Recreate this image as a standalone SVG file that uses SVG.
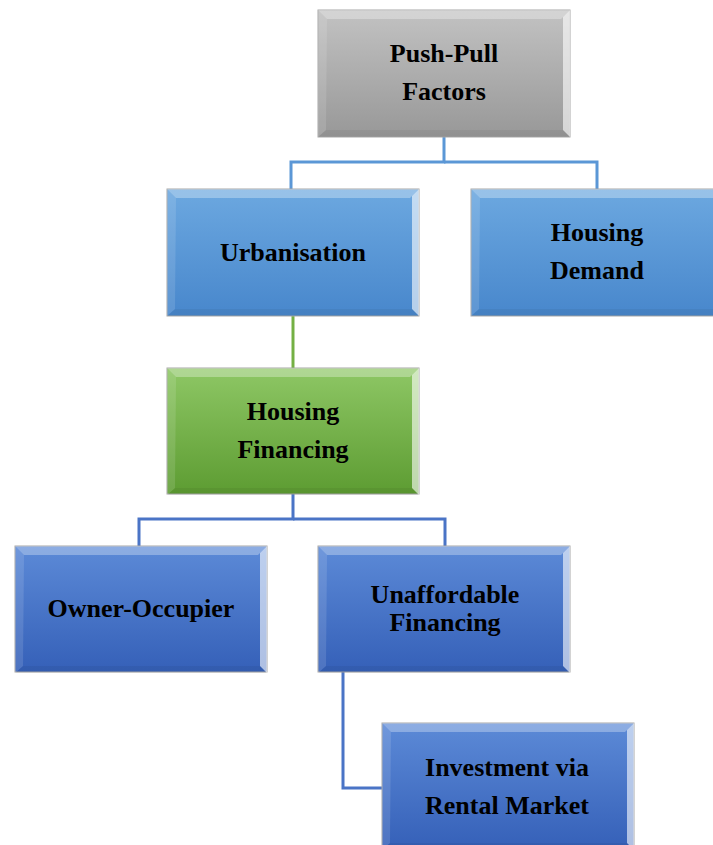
<svg xmlns="http://www.w3.org/2000/svg" xmlns:xlink="http://www.w3.org/1999/xlink" width="713" height="845" viewBox="0 0 713 845">
<style>
.lbl{font-family:"Liberation Serif","Times New Roman",serif;font-weight:bold;font-size:26px;fill:#000;text-anchor:middle}
.box{stroke:#a8a8a8;stroke-width:1}
.c1{fill:none;stroke:#5b97d6;stroke-width:3}
.c2{fill:none;stroke:#74b044;stroke-width:3}
.c3{fill:none;stroke:#4a74c6;stroke-width:3}
</style>
<defs>
<linearGradient id="gGray" x1="0" y1="0" x2="0" y2="1"><stop offset="0" stop-color="#c2c2c2"/><stop offset="1" stop-color="#989898"/></linearGradient>
<linearGradient id="gBlue" x1="0" y1="0" x2="0" y2="1"><stop offset="0" stop-color="#6ca8e0"/><stop offset="1" stop-color="#4887cc"/></linearGradient>
<linearGradient id="gGreen" x1="0" y1="0" x2="0" y2="1"><stop offset="0" stop-color="#8ec765"/><stop offset="1" stop-color="#5d9c32"/></linearGradient>
<linearGradient id="gDark" x1="0" y1="0" x2="0" y2="1"><stop offset="0" stop-color="#5c8ad7"/><stop offset="1" stop-color="#3560b8"/></linearGradient>
<g id="bevel">
<polygon points="0,0 252,0 243,9 9,9" fill="#fff" fill-opacity="0.3"/>
<polygon points="252,0 252,127 245,120 245,7" fill="#fff" fill-opacity="0.6"/>
<polygon points="0,127 252,127 245,120 8,120" fill="#000" fill-opacity="0.05"/>
<polygon points="0,0 0,127 8,120 9,9" fill="#fff" fill-opacity="0.12"/>
</g>
</defs>
<g id="connectors">
<polyline class="c1" points="444,137 444,162 291,162 291,189"/>
<polyline class="c1" points="444,162 597,162 597,189"/>
<line class="c2" x1="293" y1="316" x2="293" y2="368"/>
<polyline class="c3" points="293,494 293,519 139,519 139,546"/>
<polyline class="c3" points="293,519 445,519 445,546"/>
<polyline class="c3" points="343,672 343,788 382,788"/>
</g>
<g id="push-pull" transform="translate(318,10)">
<rect class="box" width="252" height="127" fill="url(#gGray)"/><use href="#bevel"/>
<text class="lbl" x="126" y="52">Push-Pull</text><text class="lbl" x="126" y="90">Factors</text>
</g>
<g id="urbanisation" transform="translate(167,189)">
<rect class="box" width="252" height="127" fill="url(#gBlue)"/><use href="#bevel"/>
<text class="lbl" x="126" y="72">Urbanisation</text>
</g>
<g id="housing-demand" transform="translate(471,189)">
<rect class="box" width="252" height="127" fill="url(#gBlue)"/><use href="#bevel"/>
<text class="lbl" x="126" y="52">Housing</text><text class="lbl" x="126" y="90">Demand</text>
</g>
<g id="housing-financing" transform="translate(167,368)">
<rect class="box" width="252" height="126" fill="url(#gGreen)"/><use href="#bevel"/>
<text class="lbl" x="126" y="52">Housing</text><text class="lbl" x="126" y="90">Financing</text>
</g>
<g id="owner-occupier" transform="translate(15,546)">
<rect class="box" width="252" height="126" fill="url(#gDark)"/><use href="#bevel"/>
<text class="lbl" x="126" y="71">Owner-Occupier</text>
</g>
<g id="unaffordable" transform="translate(318,546)">
<rect class="box" width="252" height="126" fill="url(#gDark)"/><use href="#bevel"/>
<text class="lbl" x="127" y="57">Unaffordable</text><text class="lbl" x="127" y="85">Financing</text>
</g>
<g id="investment" transform="translate(382,723)">
<rect class="box" width="252" height="127" fill="url(#gDark)"/><use href="#bevel"/>
<text class="lbl" x="125" y="53">Investment via</text><text class="lbl" x="125" y="91">Rental Market</text>
</g>
</svg>
